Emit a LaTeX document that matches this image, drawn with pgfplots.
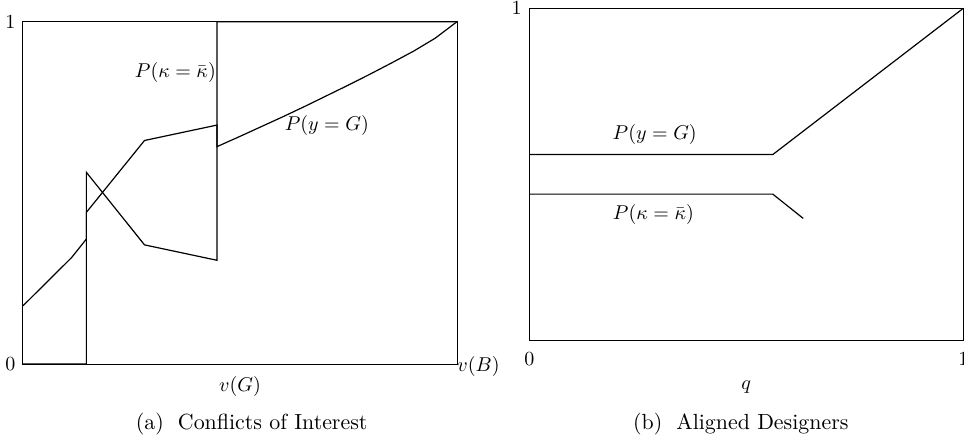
\documentclass[border=0pt,11pt]{standalone}
\usepackage{pgfplots}
\pgfplotsset{compat=1.18}

\pgfplotsset{
  panel/.style={
    scale only axis, anchor=south west,
    xmin=0, xmax=1, ymin=0, ymax=1,
    clip=false,
    major tick length=0pt,
    tick label style={font=\small},
    label style={font=\small},
    axis line style={line width=0.5pt},
  },
  curve/.style={black, line width=0.6pt, no marks},
}

\begin{document}
\begin{tikzpicture}
\path[use as bounding box] (0pt,0pt) rectangle (482pt,-219.5pt);

% (a) conflicts of interest
\begin{axis}[panel,
    at={(11.5pt,-182pt)}, width=217pt, height=171.15pt,
    xtick=\empty, ytick={0,1},
    xlabel={$v(G)$},
    xlabel style={at={(axis description cs:0.5,0)}, anchor=north, yshift=-2.2pt},
]
% P(kappa = kappa bar)
\addplot[curve] coordinates {
  (0,0) (0.146,0) (0.146,0.560) (0.280,0.348) (0.447,0.303) (0.447,1) (1,1)
};
% P(y = G)
\addplot[curve] coordinates {
  (0,0.170) (0.112,0.311) (0.146,0.365) (0.146,0.443) (0.280,0.653)
  (0.447,0.698) (0.447,0.635) (0.5,0.665) (0.55,0.694) (0.6,0.723)
  (0.65,0.753) (0.7,0.784) (0.75,0.815) (0.8,0.847) (0.85,0.880)
  (0.9,0.914) (0.95,0.952) (1,1)
};
\node[font=\small, inner sep=0pt] at (axis cs:0.351,0.851) {$P(\kappa=\bar{\kappa})$};
\node[font=\small, inner sep=0pt] at (axis cs:0.700,0.696) {$P(y=G)$};
\node[font=\small, inner sep=0pt, anchor=west, yshift=-1pt] at (rel axis cs:1,0) {$v(B)$};
\end{axis}

% (b) aligned designers
\begin{axis}[panel,
    at={(264.65pt,-170.35pt)}, width=217pt, height=166.2pt,
    xtick={0,1}, ytick={1},
    xticklabel style={yshift=-2.2pt},
    xlabel={$q$},
    xlabel style={at={(axis description cs:0.5,0)}, anchor=north, yshift=-16.3pt},
]
\addplot[curve] coordinates {(0,0.560) (0.561,0.560) (1,1)};
\addplot[curve] coordinates {(0,0.441) (0.561,0.441) (0.631,0.368)};
\node[font=\small, inner sep=0pt] at (axis cs:0.289,0.619) {$P(y=G)$};
\node[font=\small, inner sep=0pt] at (axis cs:0.286,0.381) {$P(\kappa=\bar{\kappa})$};
\end{axis}

\node[anchor=base] at (125.85pt,-214.5pt) {(a)\hspace{7pt}Conflicts of Interest};
\node[anchor=base] at (370.4pt,-214.5pt) {(b)\hspace{7pt}Aligned Designers};
\end{tikzpicture}
\end{document}
